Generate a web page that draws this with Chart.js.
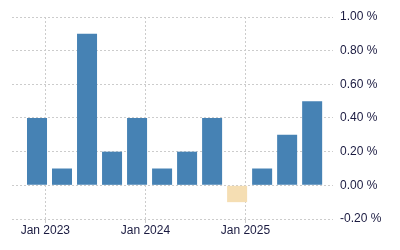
<!DOCTYPE html>
<html>
<head>
<meta charset="utf-8">
<script src="https://cdn.jsdelivr.net/npm/chart.js@4"></script>
<style>
html,body{margin:0;padding:0;background:#fff;}
#wrap{width:400px;height:250px;}
</style>
</head>
<body>
<div id="wrap"><canvas id="c" width="400" height="250"></canvas></div>
<script>
// months since Jan 2023 (Dec 2022 = -1), quarterly observations
const periods = [-1, 2, 5, 8, 11, 14, 17, 20, 23, 26, 29, 32];
const values = [0.4, 0.1, 0.9, 0.2, 0.4, 0.1, 0.2, 0.4, -0.1, 0.1, 0.3, 0.5];
const xTickPositions = [0, 12, 24];
const xTickLabels = ['Jan 2023', 'Jan 2024', 'Jan 2025'];
const yTicks = [-0.2, 0, 0.2, 0.4, 0.6, 0.8, 1.0];

const points = periods.map((p, i) => ({x: p, y: values[i]}));
const textColor = '#1a1a40';
const gridColor = '#cccccc';

new Chart(document.getElementById('c'), {
  type: 'bar',
  data: {
    datasets: [{
      data: points,
      backgroundColor: values.map(v => v < 0 ? '#f5deb3' : '#4682b4'),
      borderWidth: 0,
      barPercentage: 0.8,
      categoryPercentage: 1.0
    }]
  },
  options: {
    responsive: false,
    animation: false,
    layout: {padding: {left: 12, top: 17, right: 0, bottom: 0}},
    plugins: {legend: {display: false}, tooltip: {enabled: false}},
    scales: {
      x: {
        type: 'linear',
        min: -4,
        max: 34.5,
        offset: false,
        border: {display: false, dash: [2, 2]},
        grid: {offset: false, color: gridColor, tickLength: 4, tickColor: gridColor, drawTicks: true},
        afterBuildTicks: s => { s.ticks = xTickPositions.map(v => ({value: v})); },
        afterFit: s => { s.height = 31; },
        ticks: {
          color: textColor,
          font: {family: 'Liberation Sans', size: 12},
          padding: 0,
          maxRotation: 0,
          autoSkip: false,
          callback: v => xTickLabels[xTickPositions.indexOf(v)]
        }
      },
      y: {
        position: 'right',
        min: -0.2,
        max: 1.0,
        border: {display: false, dash: [2, 2]},
        grid: {color: gridColor, drawTicks: false},
        afterBuildTicks: s => { s.ticks = yTicks.map(v => ({value: v})); },
        afterFit: s => { s.width = 67; },
        ticks: {
          color: textColor,
          font: {family: 'Liberation Sans', size: 12},
          padding: 7,
          callback: v => v.toFixed(2) + ' %'
        }
      }
    }
  }
});
</script>
</body>
</html>
